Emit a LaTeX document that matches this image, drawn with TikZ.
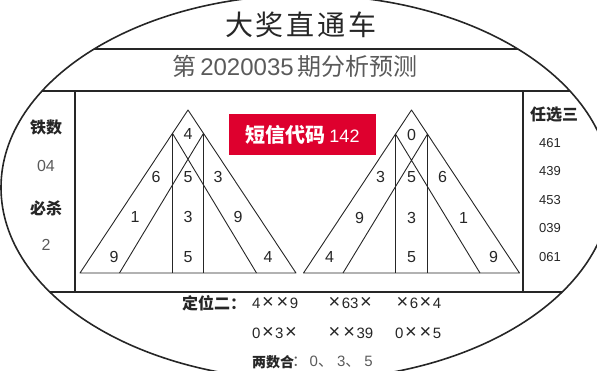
\documentclass[tikz,border=0pt]{standalone}
\usepackage{fontspec}
\setmainfont{Liberation Sans}
\newfontfamily\cjk{Noto Sans CJK SC}
\usetikzlibrary{positioning}
\definecolor{ink}{HTML}{262626}
\definecolor{soft}{HTML}{5A5A5A}
\definecolor{banner}{RGB}{222,0,46}
\newcommand\X{\hspace{1.5pt}{\fontsize{20}{20}\selectfont×}\hspace{1.5pt}}

\begin{document}
\begin{tikzpicture}[x=1pt, y=-1pt, on grid, line join=round,
	frame/.style={draw=ink, line width=1.6pt},
	edge/.style={draw=ink, line width=0.9pt},
	digit/.style={font=\fontsize{16}{16}\selectfont, text=ink, inner sep=0pt},
	head/.style={font=\cjk\bfseries\fontsize{16}{16}\selectfont, text=ink, inner sep=0pt},
	item/.style={font=\fontsize{16}{16}\selectfont, text=soft, inner sep=0pt},
	pick/.style={font=\fontsize{15}{15}\selectfont, text=ink, inner sep=0pt, anchor=west}]
	\useasboundingbox (0,0) rectangle (597,370);
	\clip (0,0) rectangle (597,370);

	% frame inside the oval
	\begin{scope}
		\clip (306,187.5) ellipse [x radius=305pt, y radius=192.5pt];
		\draw[frame] (0,49) -- (597,49);
		\draw[frame] (0,91) -- (597,91);
		\draw[frame] (0,292) -- (597,292);
	\end{scope}
	\draw[frame] (75,91) -- (75,292);
	\draw[frame] (523,91) -- (523,292);
	\draw[frame] (306,187.5) ellipse [x radius=305pt, y radius=192.5pt];

	\node[font=\cjk\fontsize{28}{28}\selectfont, text=ink] (title) at (301,25) {大\hspace{3pt}奖\hspace{3pt}直\hspace{3pt}通\hspace{3pt}车};
	\node[font=\fontsize{24}{24}\selectfont, text=soft] (issue) at (295,66) {{\cjk 第}\,2020035\,{\cjk 期分析预测}};

	% left triangle
	\begin{scope}[shift={(188,0)}, name prefix=L-]
		\coordinate (top) at (0,110);
		\coordinate (bl) at (-108,273);
		\coordinate (br) at (108,273);
		\coordinate (ml) at (-15.5,133.4);
		\coordinate (mr) at (15.5,133.4);
		\draw[edge] (bl) -- (top) -- (br) -- cycle;
		\draw[edge] (ml) -- (ml |- bl) (mr) -- (mr |- br);
		\draw[edge] (ml) -- (68.5,273) (mr) -- (-68.5,273);
		\node[digit] (d1) at (0,134) {4};
		\node[digit] (d2) at (-32,177) {6};
		\node[digit] (d3) at (0,177) {5};
		\node[digit] (d4) at (30,177) {3};
		\node[digit] (d5) at (-53,217) {1};
		\node[digit] (d6) at (0,217) {3};
		\node[digit] (d7) at (50,217) {9};
		\node[digit] (d8) at (-74,257) {9};
		\node[digit] (d9) at (0,257) {5};
		\node[digit] (d10) at (80,257) {4};
	\end{scope}

	% right triangle
	\begin{scope}[shift={(411.5,0)}, name prefix=R-]
		\coordinate (top) at (0,110);
		\coordinate (bl) at (-108,273);
		\coordinate (br) at (108,273);
		\coordinate (ml) at (-16,134);
		\coordinate (mr) at (16,134);
		\draw[edge] (bl) -- (top) -- (br) -- cycle;
		\draw[edge] (ml) -- (ml |- bl) (mr) -- (mr |- br);
		\draw[edge] (ml) -- (68.5,273) (mr) -- (-68.5,273);
		\node[digit] (d1) at (0,135) {0};
		\node[digit] (d2) at (-31,177) {3};
		\node[digit] (d3) at (0,177) {5};
		\node[digit] (d4) at (31,177) {6};
		\node[digit] (d5) at (-52,218) {9};
		\node[digit] (d6) at (0,218) {3};
		\node[digit] (d7) at (52,218) {1};
		\node[digit] (d8) at (-82,257) {4};
		\node[digit] (d9) at (0,257) {5};
		\node[digit] (d10) at (82,257) {9};
	\end{scope}

	\node[fill=banner, text=white, minimum width=147pt, minimum height=41pt, inner sep=0pt] (code) at (302.5,134.5)
		{{\cjk\bfseries\fontsize{20}{20}\selectfont 短信代码}\hspace{4pt}{\fontsize{18}{18}\selectfont 142}};

	% side columns
	\node[head] (iron) at (46,127) {铁数};
	\node[item] (iron-v) [below=39pt of iron] {04};
	\node[head] (kill) [below=42pt of iron-v] {必杀};
	\node[item] (kill-v) [below=37pt of kill] {2};

	\node[head] (three) at (554,115) {任选三};
	\node[item, text=ink, font=\fontsize{13}{13}\selectfont] (t1) at (550,143) {461};
	\node[item, text=ink, font=\fontsize{13}{13}\selectfont] (t2) [below=28.5pt of t1] {439};
	\node[item, text=ink, font=\fontsize{13}{13}\selectfont] (t3) [below=28.5pt of t2] {453};
	\node[item, text=ink, font=\fontsize{13}{13}\selectfont] (t4) [below=28.5pt of t3] {039};
	\node[item, text=ink, font=\fontsize{13}{13}\selectfont] (t5) [below=28.5pt of t4] {061};

	% bottom rows
	\node[head, anchor=west] (fix) at (182,303) {定位二：};
	\node[pick] (p1) at (252,303) {4\X\X9};
	\node[pick] (p2) at (327,303) {\X63\X};
	\node[pick] (p3) at (395,303) {\X6\X4};
	\node[pick] (p4) at (252,333) {0\X3\X};
	\node[pick] (p5) at (327,333) {\X\X39};
	\node[pick] (p6) at (395,333) {0\X\X5};
	\node[head, anchor=west, font=\cjk\bfseries\fontsize{14}{14}\selectfont] (pair) at (252,362) {两数合};
	\node[pick, text=soft] (pair-v) at (292,362) {{\cjk ：}\,0{\cjk 、}\hspace{4pt}3{\cjk 、}\hspace{4pt}5};
\end{tikzpicture}
\end{document}
